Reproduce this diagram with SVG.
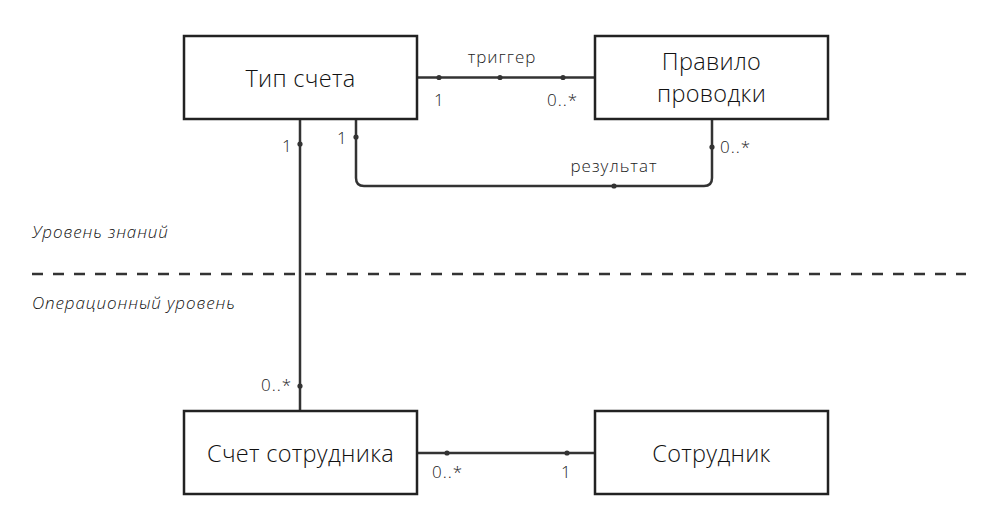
<svg xmlns="http://www.w3.org/2000/svg" width="1005" height="526" viewBox="0 0 1005 526">
<style>
.box{fill:#fff;stroke:#222;stroke-width:2.5}
.ntext{font-family:"Open Sans",sans-serif;font-size:23.5px;font-weight:350;letter-spacing:0.3px;fill:#111;text-anchor:middle}
.lbl{font-family:"Open Sans",sans-serif;font-size:17px;font-weight:350;letter-spacing:1px;fill:#222}
.lvl{font-family:"Open Sans",sans-serif;font-size:17px;font-weight:350;letter-spacing:0.9px;font-style:italic;fill:#111}
.edge{fill:none;stroke:#333;stroke-width:2.5}
.dot{fill:#333}
</style>
<rect width="1005" height="526" fill="#fff"/>
<g id="levels">
<line x1="32" y1="274" x2="966" y2="274" stroke="#333" stroke-width="2.5" stroke-dasharray="11 10"/>
<text class="lvl" x="32" y="238">Уровень знаний</text>
<text class="lvl" x="32" y="309">Операционный уровень</text>
</g>
<g id="connectors">
<path class="edge" d="M417 77.5 H595"/>
<circle class="dot" cx="439" cy="77.5" r="2.6"/>
<circle class="dot" cx="500" cy="77.5" r="2.6"/>
<circle class="dot" cx="563" cy="77.5" r="2.6"/>
<text class="lbl" x="502" y="63" text-anchor="middle">триггер</text>
<text class="lbl" x="434" y="106">1</text>
<text class="lbl" x="547" y="106">0..*</text>

<path class="edge" d="M356 119 V178 Q356 186 364 186 H704 Q712 186 712 178 V119"/>
<circle class="dot" cx="356" cy="137" r="2.6"/>
<circle class="dot" cx="614" cy="186" r="2.6"/>
<circle class="dot" cx="712" cy="147" r="2.6"/>
<text class="lbl" x="337" y="144">1</text>
<text class="lbl" x="720" y="153">0..*</text>
<text class="lbl" x="614" y="172" text-anchor="middle">результат</text>

<path class="edge" d="M300 119 V411"/>
<circle class="dot" cx="300" cy="144" r="2.6"/>
<circle class="dot" cx="300" cy="386" r="2.6"/>
<text class="lbl" x="282" y="152">1</text>
<text class="lbl" x="261" y="391">0..*</text>

<path class="edge" d="M417 453 H595"/>
<circle class="dot" cx="447" cy="453" r="2.6"/>
<circle class="dot" cx="567" cy="453" r="2.6"/>
<text class="lbl" x="432" y="478">0..*</text>
<text class="lbl" x="561" y="478">1</text>
</g>
<g id="node-tip-scheta">
<rect class="box" x="184" y="36" width="233" height="83"/>
<text class="ntext" x="300.5" y="87">Тип счета</text>
</g>
<g id="node-pravilo">
<rect class="box" x="595" y="36" width="233" height="83"/>
<text class="ntext" x="711.5" y="70">Правило</text>
<text class="ntext" x="711.5" y="102">проводки</text>
</g>
<g id="node-schet-sotrudnika">
<rect class="box" x="184" y="411" width="233" height="83"/>
<text class="ntext" x="300.5" y="462">Счет сотрудника</text>
</g>
<g id="node-sotrudnik">
<rect class="box" x="595" y="411" width="233" height="83"/>
<text class="ntext" x="711.5" y="462">Сотрудник</text>
</g>
</svg>
